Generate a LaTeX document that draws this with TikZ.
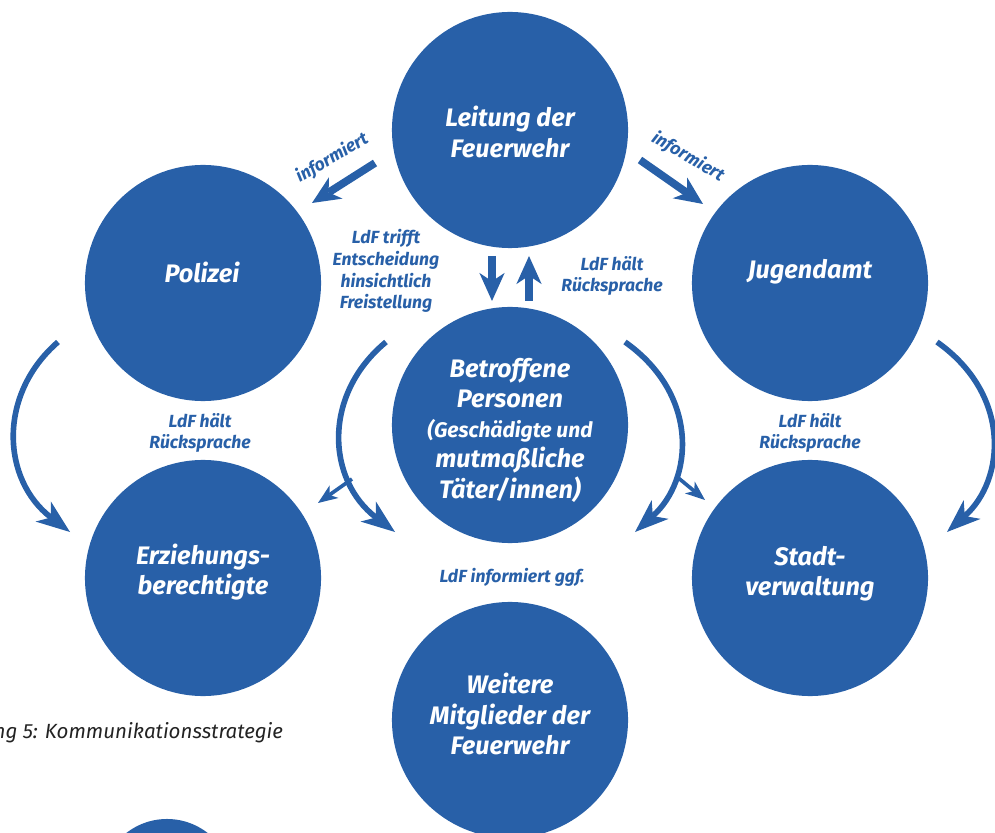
\documentclass[tikz,border=0pt]{standalone}
\usepackage{fontspec}
\setmainfont{Fira Sans}
\usetikzlibrary{arrows.meta}
\definecolor{fw-blue}{RGB}{40,96,168}
\definecolor{caption-grey}{RGB}{35,35,35}
\begin{document}
\begin{tikzpicture}[x=0.025cm, y=-0.025cm,
    bubble/.style={circle, fill=fw-blue, minimum size=5.9cm, inner sep=0pt},
    bubble-text/.style={text=white, align=center, font=\fontsize{18}{21.5}\selectfont\bfseries\itshape},
    note/.style={text=fw-blue, align=center, font=\fontsize{12.5}{15.5}\selectfont\bfseries\itshape},
    fat-arrow/.style={fw-blue, line width=5.5pt, -{Stealth[length=20pt, width=18pt, inset=6pt, line width=0pt]}},
    bend-arrow/.style={fw-blue, line width=4pt, -{Stealth[length=24pt, width=18pt, inset=7pt, line width=0pt]}},
    thin-arrow/.style={fw-blue, line width=2.6pt, -{Stealth[length=14pt, width=11pt, inset=4pt, line width=0pt]}}]
    \useasboundingbox (0,0) rectangle (995,833);
    \clip (0,0) rectangle (995,833);

    \node[bubble] (ldf) at (510,130) {};
    \node[bubble] (polizei) at (203,283) {};
    \node[bubble] (jugendamt) at (810,283) {};
    \node[bubble] (betroffene) at (510,425) {};
    \node[bubble] (eltern) at (203,578) {};
    \node[bubble] (stadt) at (810,578) {};
    \node[bubble] (weitere) at (510,720) {};
    \node[circle, fill=fw-blue, minimum size=3.3cm] (deko) at (167,885) {};

    \node[bubble-text] (ldf-t) at (510,132) {Leitung der\\Feuerwehr};
    \node[bubble-text] (polizei-t) at (202,272) {Polizei};
    \node[bubble-text] (jugendamt-t) at (810,272) {Jugendamt};
    \node[bubble-text] (betroffene-t) at (510,430) {Betroffene\\Personen\\\fontsize{15}{20}\selectfont(Geschädigte und\\mutmaßliche\\Täter/innen)};
    \node[bubble-text] (eltern-t) at (203,572) {Erziehungs-\\berechtigte};
    \node[bubble-text] (stadt-t) at (810,574) {Stadt-\\verwaltung};
    \node[bubble-text] (weitere-t) at (510,714) {Weitere\\Mitglieder der\\Feuerwehr};

    % Pfeile
    \coordinate (inf-l-a) at (375,163);
    \coordinate (inf-l-b) at (312,203);
    \coordinate (inf-r-a) at (640,160);
    \coordinate (inf-r-b) at (703,204);
    \draw[fat-arrow] (inf-l-a) -- (inf-l-b);
    \draw[fat-arrow] (inf-r-a) -- (inf-r-b);

    \coordinate (down-a) at (492,256);
    \coordinate (down-b) at (492,301);
    \coordinate (up-a) at (529,301);
    \coordinate (up-b) at (529,256);
    \draw[fat-arrow] (down-a) -- (down-b);
    \draw[fat-arrow] (up-a) -- (up-b);

    \coordinate (bow-1a) at (58,342);
    \coordinate (bow-1b) at (70,532);
    \coordinate (bow-2a) at (386,342);
    \coordinate (bow-2b) at (395,532);
    \coordinate (bow-3a) at (625,342);
    \coordinate (bow-3b) at (635,532);
    \coordinate (bow-4a) at (937,342);
    \coordinate (bow-4b) at (947,532);
    \draw[bend-arrow] (bow-1a) .. controls (-3,395) and (2,480) .. (bow-1b);
    \draw[bend-arrow] (bow-2a) .. controls (322,395) and (327,480) .. (bow-2b);
    \draw[bend-arrow] (bow-3a) .. controls (700,395) and (693,480) .. (bow-3b);
    \draw[bend-arrow] (bow-4a) .. controls (1012,395) and (1005,480) .. (bow-4b);

    \coordinate (twig-l-a) at (352,479);
    \coordinate (twig-l-b) at (318,503);
    \coordinate (twig-r-a) at (676,476);
    \coordinate (twig-r-b) at (705,500);
    \draw[thin-arrow] (twig-l-a) -- (twig-l-b);
    \draw[thin-arrow] (twig-r-a) -- (twig-r-b);

    % Beschriftungen
    \node[note, rotate=30] (inf-l) at (332,158) {informiert};
    \node[note, rotate=-30] (inf-r) at (688,157) {informiert};
    \node[note] (trifft) at (386,271) {LdF trifft\\Entscheidung\\hinsichtlich\\Freistellung};
    \node[note] (haelt-m) at (612,276) {LdF hält\\Rücksprache};
    \node[note] (haelt-l) at (200,433) {LdF hält\\Rücksprache};
    \node[note] (haelt-r) at (810,433) {LdF hält\\Rücksprache};
    \node[note] (ggf) at (512,577) {LdF informiert ggf.};

    \node[anchor=east, text=caption-grey, font=\fontsize{14.6}{16}\selectfont\itshape] (caption) at (288,733) {ng 5: Kommunikationsstrategie};
\end{tikzpicture}
\end{document}
